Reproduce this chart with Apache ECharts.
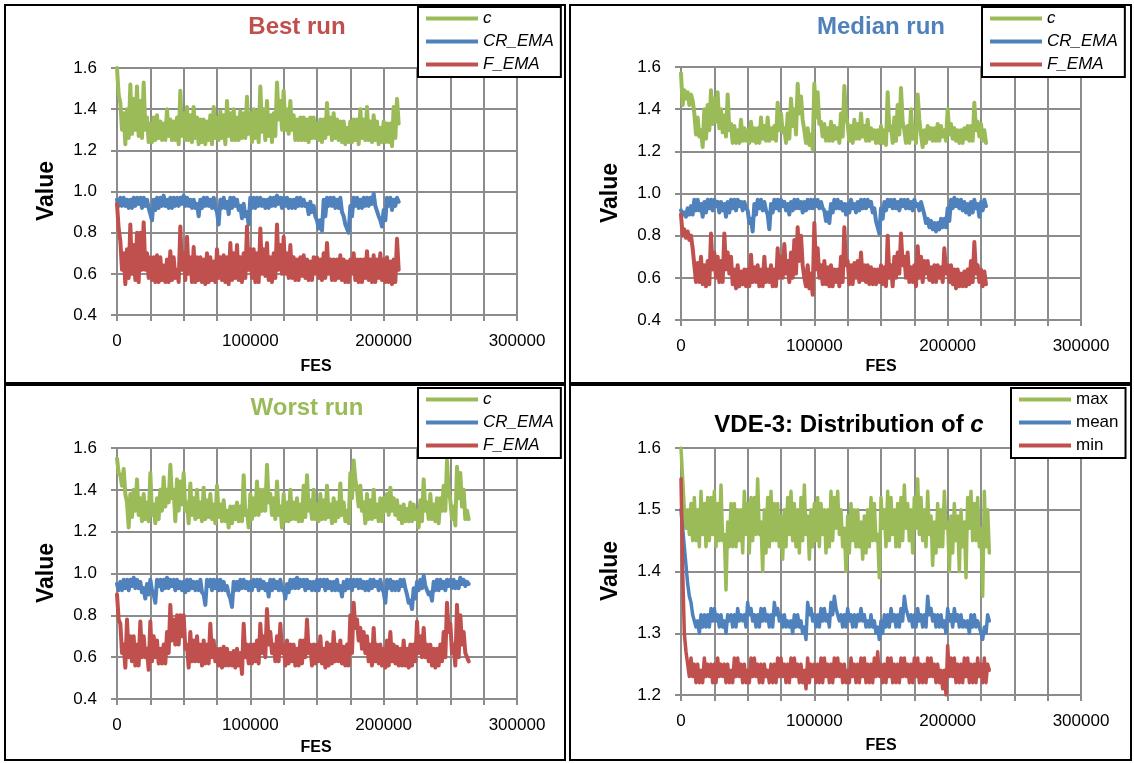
<!DOCTYPE html>
<html>
<head>
<meta charset="utf-8">
<script src="https://cdn.jsdelivr.net/npm/echarts@6/dist/echarts.min.js"></script>
<style>
  html, body { margin: 0; padding: 0; background: #fff; }
  #chart { width: 1134px; height: 763px; }
</style>
</head>
<body>
<div id="chart"></div>
<script>
// FES width of one read bin; each bin has two readings (top and bottom of the trace in that bin)
const STEP = 2500;

// Best run
const bestC = [1.60,1.43,1.23,1.40,1.52,1.30,1.51,1.26,1.53,1.24,
  1.33,1.25,1.37,1.25,1.33,1.40,1.25,1.34,1.23,1.49,
  1.25,1.41,1.24,1.41,1.23,1.35,1.23,1.34,1.23,1.41,
  1.25,1.39,1.23,1.44,1.25,1.40,1.25,1.39,1.26,1.46,
  1.24,1.40,1.24,1.51,1.25,1.44,1.24,1.38,1.53,1.30,
  1.49,1.28,1.44,1.25,1.35,1.25,1.36,1.24,1.36,1.26,
  1.33,1.24,1.35,1.43,1.25,1.38,1.25,1.34,1.23,1.31,
  1.24,1.35,1.23,1.40,1.25,1.41,1.24,1.37,1.23,1.31,
  1.24,1.33,1.22,1.41,1.45];
const bestC2 = [1.47,1.30,1.38,1.26,1.28,1.45,1.27,1.44,1.30,1.36,
  1.24,1.36,1.26,1.34,1.25,1.27,1.35,1.25,1.36,1.27,
  1.38,1.25,1.37,1.26,1.36,1.24,1.35,1.25,1.37,1.26,
  1.36,1.26,1.37,1.27,1.38,1.25,1.36,1.26,1.38,1.28,
  1.38,1.26,1.39,1.29,1.40,1.27,1.37,1.27,1.35,1.44,
  1.30,1.40,1.30,1.37,1.25,1.36,1.25,1.35,1.26,1.36,
  1.25,1.35,1.26,1.28,1.36,1.26,1.35,1.24,1.34,1.24,
  1.34,1.25,1.35,1.26,1.35,1.25,1.34,1.25,1.34,1.24,
  1.34,1.24,1.33,1.26,1.33];
const bestCR = [0.93,0.97,0.93,0.96,0.92,0.97,0.94,0.97,0.93,0.96,
  0.86,0.91,0.97,0.93,0.98,0.92,0.97,0.93,0.97,0.94,
  0.98,0.93,0.96,0.92,0.88,0.96,0.93,0.97,0.92,0.97,
  0.84,0.92,0.97,0.89,0.97,0.93,0.96,0.87,0.94,0.84,
  0.92,0.97,0.93,0.97,0.92,0.96,0.93,0.97,0.94,0.97,
  0.93,0.97,0.92,0.96,0.93,0.97,0.93,0.89,0.95,0.88,
  0.86,0.81,0.96,0.97,0.93,0.97,0.92,0.97,0.84,0.80,
  0.93,0.97,0.92,0.96,0.93,0.97,0.94,0.99,0.88,0.83,
  0.86,0.93,0.97,0.93,0.97];
const bestCR2 = [0.96,0.93,0.97,0.92,0.96,0.93,0.97,0.92,0.97,0.92,
  0.92,0.96,0.92,0.97,0.93,0.96,0.92,0.97,0.93,0.97,
  0.93,0.97,0.92,0.96,0.94,0.92,0.97,0.93,0.96,0.92,
  0.90,0.96,0.92,0.95,0.92,0.97,0.91,0.93,0.88,0.90,
  0.97,0.92,0.97,0.93,0.96,0.92,0.97,0.93,0.98,0.92,
  0.97,0.92,0.96,0.92,0.97,0.93,0.96,0.94,0.90,0.93,
  0.82,0.86,0.88,0.93,0.97,0.92,0.96,0.90,0.88,0.84,
  0.88,0.93,0.97,0.92,0.97,0.93,0.97,0.93,0.93,0.86,
  0.91,0.97,0.91,0.96,0.95];
const bestF = [0.94,0.76,0.55,0.72,0.84,0.57,0.80,0.62,0.85,0.58,
  0.68,0.56,0.69,0.57,0.64,0.56,0.71,0.58,0.62,0.83,
  0.57,0.78,0.56,0.73,0.57,0.68,0.55,0.70,0.57,0.66,
  0.72,0.57,0.69,0.55,0.75,0.58,0.74,0.56,0.70,0.83,
  0.58,0.72,0.56,0.82,0.59,0.75,0.56,0.70,0.84,0.60,
  0.78,0.58,0.74,0.57,0.67,0.59,0.69,0.57,0.66,0.60,
  0.68,0.57,0.70,0.75,0.57,0.67,0.58,0.69,0.56,0.66,
  0.60,0.70,0.56,0.67,0.58,0.71,0.56,0.69,0.58,0.70,
  0.56,0.68,0.55,0.67,0.77];
const bestF2 = [0.82,0.62,0.70,0.58,0.60,0.74,0.56,0.80,0.62,0.70,
  0.57,0.68,0.56,0.68,0.56,0.67,0.57,0.68,0.56,0.62,
  0.70,0.60,0.68,0.56,0.68,0.56,0.67,0.56,0.68,0.56,
  0.58,0.68,0.56,0.68,0.57,0.70,0.57,0.68,0.58,0.62,
  0.72,0.56,0.70,0.60,0.72,0.57,0.68,0.58,0.62,0.74,
  0.60,0.70,0.58,0.68,0.57,0.68,0.58,0.67,0.57,0.68,
  0.58,0.67,0.58,0.60,0.67,0.57,0.67,0.57,0.67,0.56,
  0.67,0.57,0.67,0.56,0.67,0.57,0.67,0.56,0.67,0.57,
  0.67,0.56,0.66,0.56,0.62];

// Median run
const medC = [1.57,1.45,1.48,1.44,1.38,1.27,1.22,1.40,1.30,1.49,
  1.34,1.48,1.29,1.37,1.47,1.24,1.32,1.24,1.35,1.25,
  1.30,1.34,1.24,1.31,1.36,1.25,1.36,1.26,1.32,1.43,
  1.29,1.24,1.38,1.45,1.40,1.52,1.35,1.30,1.23,1.21,
  1.52,1.48,1.27,1.33,1.25,1.34,1.26,1.31,1.38,1.51,
  1.25,1.32,1.35,1.26,1.38,1.25,1.35,1.26,1.30,1.24,
  1.32,1.23,1.48,1.24,1.36,1.42,1.50,1.30,1.24,1.40,
  1.24,1.47,1.22,1.30,1.26,1.31,1.25,1.33,1.27,1.30,
  1.40,1.26,1.31,1.24,1.30,1.26,1.32,1.25,1.43,1.27,
  1.33,1.30];
const medC2 = [1.42,1.49,1.42,1.47,1.28,1.36,1.30,1.26,1.42,1.33,
  1.45,1.31,1.40,1.27,1.30,1.33,1.24,1.30,1.25,1.31,
  1.24,1.25,1.31,1.24,1.26,1.32,1.25,1.31,1.25,1.30,
  1.38,1.31,1.26,1.32,1.28,1.38,1.46,1.24,1.31,1.28,
  1.36,1.33,1.34,1.25,1.31,1.25,1.32,1.24,1.27,1.36,
  1.33,1.24,1.26,1.33,1.27,1.32,1.25,1.31,1.24,1.30,
  1.24,1.30,1.30,1.32,1.25,1.28,1.34,1.24,1.32,1.26,
  1.31,1.35,1.28,1.24,1.32,1.25,1.31,1.25,1.32,1.25,
  1.28,1.33,1.25,1.30,1.24,1.31,1.25,1.32,1.30,1.34,
  1.25,1.24];
const medCR = [0.90,0.91,0.90,0.94,0.92,0.97,0.89,0.96,0.93,0.97,
  0.94,0.96,0.92,0.89,0.96,0.93,0.97,0.94,0.96,0.93,
  0.86,0.82,0.95,0.93,0.97,0.92,0.83,0.95,0.93,0.97,
  0.94,0.96,0.90,0.96,0.93,0.97,0.91,0.96,0.93,0.97,
  0.94,0.97,0.93,0.87,0.86,0.95,0.97,0.93,0.96,0.90,
  0.95,0.93,0.91,0.96,0.93,0.97,0.94,0.96,0.87,0.81,
  0.93,0.96,0.94,0.97,0.93,0.96,0.94,0.97,0.93,0.96,
  0.94,0.95,0.93,0.86,0.84,0.87,0.82,0.86,0.88,0.84,
  0.93,0.97,0.94,0.97,0.92,0.96,0.90,0.96,0.93,0.89,
  0.96,0.94];
const medCR2 = [0.92,0.89,0.93,0.90,0.97,0.92,0.95,0.91,0.97,0.92,
  0.97,0.91,0.96,0.95,0.91,0.97,0.92,0.97,0.92,0.96,
  0.92,0.88,0.90,0.97,0.92,0.96,0.90,0.91,0.97,0.92,
  0.97,0.92,0.95,0.92,0.97,0.93,0.96,0.92,0.97,0.93,
  0.97,0.93,0.96,0.92,0.91,0.91,0.93,0.97,0.92,0.95,
  0.91,0.97,0.95,0.92,0.97,0.93,0.97,0.91,0.93,0.87,
  0.88,0.92,0.97,0.93,0.97,0.92,0.97,0.93,0.97,0.92,
  0.97,0.92,0.96,0.90,0.88,0.83,0.86,0.83,0.84,0.88,
  0.87,0.93,0.98,0.93,0.97,0.91,0.95,0.91,0.97,0.95,
  0.92,0.97];
const medF = [0.90,0.79,0.82,0.80,0.66,0.58,0.70,0.56,0.68,0.81,
  0.60,0.70,0.58,0.81,0.62,0.70,0.55,0.66,0.57,0.64,
  0.56,0.71,0.58,0.66,0.56,0.70,0.58,0.66,0.56,0.74,
  0.60,0.76,0.58,0.72,0.62,0.84,0.66,0.60,0.55,0.52,
  0.86,0.74,0.57,0.68,0.56,0.66,0.58,0.64,0.70,0.84,
  0.57,0.66,0.60,0.68,0.72,0.58,0.66,0.57,0.64,0.58,
  0.66,0.56,0.80,0.56,0.70,0.62,0.81,0.60,0.72,0.58,
  0.66,0.75,0.70,0.62,0.68,0.58,0.66,0.60,0.65,0.74,
  0.58,0.66,0.55,0.64,0.56,0.63,0.57,0.68,0.77,0.58,
  0.64,0.57];
const medF2 = [0.80,0.83,0.78,0.74,0.58,0.67,0.57,0.66,0.57,0.64,
  0.72,0.58,0.68,0.64,0.72,0.57,0.64,0.56,0.63,0.56,
  0.64,0.58,0.65,0.56,0.64,0.58,0.64,0.56,0.64,0.60,
  0.70,0.62,0.68,0.60,0.78,0.68,0.80,0.56,0.66,0.62,
  0.64,0.60,0.66,0.57,0.65,0.56,0.64,0.56,0.58,0.66,
  0.68,0.57,0.67,0.58,0.59,0.66,0.57,0.65,0.57,0.64,
  0.57,0.65,0.60,0.66,0.60,0.72,0.66,0.70,0.58,0.65,
  0.56,0.60,0.58,0.68,0.59,0.65,0.58,0.66,0.58,0.62,
  0.66,0.57,0.64,0.56,0.62,0.56,0.64,0.58,0.62,0.66,
  0.56,0.63];

// Worst run
const worstC = [1.55,1.47,1.50,1.22,1.38,1.30,1.45,1.25,1.38,1.25,
  1.48,1.24,1.36,1.30,1.46,1.40,1.52,1.25,1.45,1.33,
  1.48,1.24,1.43,1.26,1.40,1.25,1.41,1.27,1.38,1.24,
  1.42,1.25,1.35,1.22,1.32,1.26,1.34,1.25,1.47,1.22,
  1.38,1.28,1.44,1.30,1.40,1.52,1.28,1.36,1.44,1.22,
  1.38,1.25,1.40,1.26,1.36,1.25,1.42,1.47,1.26,1.40,
  1.25,1.38,1.26,1.42,1.24,1.36,1.27,1.43,1.25,1.30,
  1.48,1.54,1.32,1.42,1.24,1.38,1.26,1.40,1.25,1.36,
  1.30,1.38,1.41,1.28,1.35,1.24,1.33,1.25,1.34,1.26,
  1.22,1.35,1.45,1.26,1.38,1.25,1.36,1.30,1.42,1.54,
  1.35,1.23,1.51,1.48,1.26,1.26];
const worstC2 = [1.48,1.42,1.38,1.34,1.27,1.40,1.28,1.36,1.26,1.34,
  1.28,1.33,1.26,1.40,1.32,1.34,1.36,1.40,1.30,1.44,
  1.30,1.34,1.28,1.36,1.27,1.34,1.26,1.35,1.26,1.33,
  1.27,1.33,1.25,1.30,1.24,1.32,1.25,1.32,1.28,1.30,
  1.26,1.36,1.28,1.40,1.30,1.34,1.38,1.26,1.28,1.32,
  1.25,1.34,1.26,1.34,1.25,1.33,1.27,1.30,1.35,1.26,
  1.33,1.26,1.35,1.27,1.33,1.25,1.34,1.28,1.34,1.24,
  1.36,1.45,1.40,1.30,1.34,1.26,1.35,1.27,1.33,1.25,
  1.36,1.28,1.30,1.36,1.26,1.32,1.25,1.31,1.25,1.33,
  1.30,1.25,1.30,1.34,1.26,1.33,1.24,1.36,1.30,1.40,
  1.26,1.32,1.36,1.32,1.40,1.30];
const worstCR = [0.92,0.96,0.93,0.97,0.94,0.98,0.93,0.96,0.88,0.95,
  0.97,0.86,0.94,0.97,0.93,0.98,0.94,0.97,0.93,0.96,
  0.91,0.97,0.93,0.96,0.92,0.97,0.85,0.94,0.97,0.93,
  0.97,0.92,0.96,0.90,0.84,0.92,0.96,0.93,0.97,0.92,
  0.96,0.94,0.97,0.93,0.96,0.89,0.97,0.93,0.96,0.92,
  0.88,0.95,0.97,0.93,0.98,0.94,0.97,0.93,0.96,0.92,
  0.97,0.94,0.97,0.93,0.96,0.92,0.97,0.89,0.96,0.93,
  0.97,0.94,0.97,0.93,0.96,0.92,0.97,0.94,0.96,0.93,
  0.86,0.93,0.97,0.92,0.96,0.94,0.97,0.90,0.83,0.88,
  0.96,0.93,0.99,0.94,0.87,0.92,0.97,0.93,0.96,0.94,
  0.97,0.93,0.96,0.95,0.97,0.96];
const worstCR2 = [0.95,0.92,0.97,0.92,0.97,0.93,0.97,0.91,0.93,0.90,
  0.92,0.90,0.97,0.92,0.97,0.93,0.97,0.92,0.97,0.92,
  0.96,0.92,0.97,0.92,0.96,0.91,0.90,0.97,0.92,0.97,
  0.92,0.97,0.92,0.94,0.88,0.96,0.92,0.97,0.93,0.96,
  0.92,0.97,0.92,0.97,0.92,0.95,0.92,0.97,0.92,0.97,
  0.93,0.91,0.93,0.97,0.93,0.97,0.92,0.97,0.92,0.96,
  0.92,0.97,0.92,0.97,0.92,0.96,0.92,0.94,0.92,0.97,
  0.92,0.97,0.93,0.97,0.92,0.96,0.93,0.97,0.92,0.97,
  0.91,0.97,0.92,0.96,0.92,0.97,0.93,0.86,0.87,0.93,
  0.92,0.97,0.94,0.90,0.91,0.96,0.92,0.97,0.92,0.97,
  0.93,0.97,0.93,0.98,0.94,0.95];
const worstF = [0.90,0.76,0.55,0.78,0.58,0.70,0.56,0.77,0.60,0.54,
  0.77,0.60,0.68,0.57,0.66,0.72,0.85,0.66,0.80,0.70,
  0.80,0.55,0.72,0.58,0.70,0.56,0.68,0.57,0.76,0.58,
  0.64,0.55,0.65,0.56,0.62,0.55,0.64,0.52,0.76,0.57,
  0.66,0.58,0.68,0.76,0.60,0.83,0.62,0.58,0.70,0.76,
  0.56,0.68,0.58,0.66,0.56,0.68,0.60,0.78,0.56,0.66,
  0.58,0.70,0.55,0.67,0.57,0.72,0.58,0.68,0.56,0.66,
  0.80,0.86,0.68,0.74,0.62,0.70,0.56,0.74,0.57,0.66,
  0.55,0.68,0.72,0.57,0.65,0.56,0.68,0.55,0.66,0.58,
  0.77,0.60,0.74,0.58,0.66,0.55,0.64,0.58,0.72,0.86,
  0.62,0.56,0.85,0.80,0.62,0.58];
const worstF2 = [0.78,0.62,0.66,0.60,0.70,0.56,0.66,0.60,0.70,0.64,
  0.58,0.70,0.57,0.64,0.57,0.62,0.68,0.78,0.66,0.80,
  0.64,0.66,0.58,0.68,0.58,0.66,0.57,0.66,0.60,0.68,
  0.56,0.64,0.56,0.64,0.56,0.63,0.56,0.62,0.60,0.66,
  0.57,0.66,0.57,0.62,0.70,0.66,0.72,0.66,0.58,0.62,
  0.66,0.57,0.66,0.56,0.64,0.57,0.68,0.62,0.66,0.57,
  0.66,0.57,0.64,0.56,0.66,0.58,0.66,0.57,0.65,0.56,
  0.62,0.74,0.78,0.64,0.72,0.58,0.66,0.58,0.66,0.56,
  0.64,0.56,0.58,0.66,0.56,0.64,0.56,0.64,0.56,0.66,
  0.62,0.70,0.60,0.66,0.56,0.64,0.56,0.66,0.60,0.72,
  0.76,0.66,0.60,0.66,0.72,0.62];

// VDE-3: distribution of c
const distMax = [1.60,1.50,1.46,1.51,1.45,1.50,1.53,1.44,1.52,1.46,
  1.53,1.45,1.54,1.37,1.48,1.44,1.51,1.45,1.50,1.53,
  1.43,1.52,1.46,1.55,1.40,1.50,1.44,1.53,1.45,1.51,
  1.42,1.50,1.46,1.53,1.44,1.50,1.45,1.54,1.42,1.50,
  1.45,1.52,1.46,1.50,1.44,1.53,1.47,1.53,1.44,1.40,
  1.49,1.45,1.50,1.44,1.48,1.43,1.50,1.52,1.45,1.39,
  1.47,1.44,1.53,1.46,1.50,1.44,1.52,1.54,1.45,1.50,
  1.47,1.55,1.45,1.50,1.53,1.41,1.48,1.44,1.50,1.53,
  1.40,1.49,1.45,1.40,1.50,1.39,1.47,1.53,1.45,1.52,
  1.36,1.53,1.43];
const distMax2 = [1.55,1.47,1.50,1.45,1.52,1.44,1.46,1.51,1.45,1.52,
  1.44,1.51,1.45,1.46,1.44,1.51,1.44,1.50,1.43,1.46,
  1.51,1.45,1.52,1.46,1.48,1.43,1.52,1.45,1.51,1.44,
  1.49,1.44,1.52,1.45,1.51,1.43,1.52,1.46,1.49,1.44,
  1.51,1.44,1.51,1.43,1.50,1.45,1.52,1.46,1.50,1.47,
  1.43,1.51,1.44,1.50,1.42,1.49,1.44,1.45,1.51,1.46,
  1.52,1.50,1.45,1.52,1.44,1.51,1.45,1.47,1.51,1.43,
  1.52,1.46,1.52,1.44,1.46,1.49,1.43,1.51,1.44,1.47,
  1.48,1.43,1.51,1.49,1.44,1.48,1.52,1.45,1.51,1.44,
  1.47,1.44,1.50];
const distMean = [1.50,1.44,1.38,1.35,1.32,1.30,1.33,1.31,1.33,1.32,
  1.34,1.31,1.33,1.30,1.32,1.33,1.31,1.34,1.32,1.31,
  1.35,1.32,1.33,1.31,1.34,1.32,1.31,1.33,1.35,1.32,
  1.33,1.31,1.32,1.30,1.33,1.31,1.32,1.29,1.35,1.32,
  1.33,1.31,1.34,1.32,1.33,1.35,1.36,1.32,1.33,1.31,
  1.32,1.31,1.33,1.32,1.34,1.31,1.32,1.33,1.30,1.29,
  1.32,1.31,1.33,1.32,1.31,1.33,1.34,1.36,1.32,1.33,
  1.31,1.32,1.33,1.31,1.36,1.32,1.31,1.33,1.31,1.32,
  1.34,1.31,1.32,1.31,1.33,1.31,1.32,1.31,1.33,1.31,
  1.29,1.31,1.33];
const distMean2 = [1.47,1.41,1.36,1.33,1.31,1.32,1.31,1.33,1.31,1.34,
  1.32,1.33,1.31,1.32,1.33,1.31,1.33,1.32,1.33,1.33,
  1.33,1.34,1.31,1.33,1.32,1.34,1.33,1.31,1.33,1.34,
  1.31,1.33,1.31,1.32,1.31,1.33,1.30,1.31,1.33,1.34,
  1.31,1.33,1.32,1.34,1.31,1.33,1.34,1.34,1.31,1.33,
  1.34,1.33,1.31,1.33,1.32,1.33,1.31,1.31,1.32,1.31,
  1.30,1.33,1.31,1.34,1.33,1.31,1.32,1.34,1.34,1.31,
  1.33,1.34,1.31,1.33,1.33,1.34,1.33,1.31,1.33,1.30,
  1.32,1.33,1.34,1.33,1.31,1.32,1.30,1.33,1.31,1.32,
  1.31,1.30,1.32];
const distMin = [1.55,1.30,1.25,1.23,1.25,1.22,1.24,1.26,1.23,1.25,
  1.22,1.26,1.23,1.25,1.22,1.24,1.26,1.23,1.25,1.22,
  1.24,1.23,1.26,1.22,1.25,1.23,1.24,1.22,1.25,1.23,
  1.26,1.22,1.25,1.23,1.26,1.22,1.25,1.21,1.26,1.23,
  1.25,1.22,1.26,1.23,1.25,1.22,1.26,1.23,1.25,1.22,
  1.24,1.26,1.22,1.25,1.23,1.26,1.22,1.25,1.23,1.27,
  1.22,1.25,1.23,1.26,1.22,1.25,1.23,1.26,1.22,1.25,
  1.23,1.26,1.22,1.25,1.23,1.26,1.22,1.25,1.21,1.20,
  1.28,1.23,1.26,1.22,1.25,1.23,1.26,1.22,1.25,1.23,
  1.22,1.26,1.24];
const distMin2 = [1.40,1.27,1.23,1.26,1.22,1.25,1.22,1.23,1.25,1.22,
  1.25,1.23,1.25,1.22,1.25,1.22,1.23,1.26,1.22,1.25,
  1.22,1.26,1.23,1.25,1.22,1.25,1.22,1.25,1.22,1.26,
  1.23,1.25,1.22,1.26,1.23,1.25,1.22,1.24,1.22,1.25,
  1.22,1.25,1.22,1.26,1.22,1.25,1.23,1.26,1.22,1.25,
  1.22,1.23,1.25,1.22,1.26,1.22,1.25,1.22,1.26,1.23,
  1.25,1.22,1.26,1.22,1.25,1.22,1.26,1.23,1.25,1.22,
  1.26,1.22,1.25,1.22,1.26,1.23,1.25,1.22,1.24,1.24,
  1.23,1.26,1.22,1.25,1.22,1.26,1.22,1.25,1.22,1.26,
  1.25,1.22,1.25];

const runNames = ['c', 'CR_EMA', 'F_EMA'];
const distNames = ['max', 'mean', 'min'];
const colors = ['#9BBB59', '#4F81BD', '#C0504D'];

const FONT = '"Liberation Sans", Arial, sans-serif';
const GRID_GRAY = '#8c8c8c';

const panels = [
  { grid: { left: 117, top: 68, width: 400, height: 247 }, yMin: 0.4, yMax: 1.6, yStep: 0.2,
    title: 'Best run', titleColor: '#C0504D', titleAt: [297, 27], valueAt: [47, 191], fesAt: [316, 367],
    legendAt: [418, 7], names: runNames, italic: true,
    data: [[bestC, bestC2], [bestCR, bestCR2], [bestF, bestF2]], lw: 4 },
  { grid: { left: 681, top: 67, width: 400, height: 253 }, yMin: 0.4, yMax: 1.6, yStep: 0.2,
    title: 'Median run', titleColor: '#4F81BD', titleAt: [881, 27], valueAt: [611, 193], fesAt: [881, 367],
    legendAt: [982, 7], names: runNames, italic: true,
    data: [[medC, medC2], [medCR, medCR2], [medF, medF2]], lw: 4 },
  { grid: { left: 117, top: 448, width: 400, height: 251 }, yMin: 0.4, yMax: 1.6, yStep: 0.2,
    title: 'Worst run', titleColor: '#9BBB59', titleAt: [307, 408], valueAt: [47, 573], fesAt: [316, 748],
    legendAt: [418, 388], names: runNames, italic: true,
    data: [[worstC, worstC2], [worstCR, worstCR2], [worstF, worstF2]], lw: 4 },
  { grid: { left: 681, top: 448, width: 400, height: 247 }, yMin: 1.2, yMax: 1.6, yStep: 0.1,
    title: null, titleAt: [849, 425], valueAt: [611, 571], fesAt: [881, 746],
    legendAt: [1011, 388], names: distNames, italic: false,
    data: [[distMax, distMax2], [distMean, distMean2], [distMin, distMin2]], lw: 3.5 }
];

// each bin is drawn as its top reading then its bottom reading, half a bin apart
function toPoints(a, b) {
  const pts = [];
  a.forEach((v, i) => {
    pts.push([i * STEP, Math.max(v, b[i])]);
    pts.push([(i + 0.5) * STEP, Math.min(v, b[i])]);
  });
  return pts;
}

const chart = echarts.init(document.getElementById('chart'), null, { renderer: 'canvas' });

const grids = [], xAxes = [], yAxes = [], series = [], legends = [], graphics = [];

panels.forEach((p, idx) => {
  grids.push(Object.assign({ containLabel: false }, p.grid));
  xAxes.push({
    type: 'value', gridIndex: idx, min: 0, max: 300000, interval: 25000,
    axisLine: { show: true, lineStyle: { color: GRID_GRAY, width: 2 } },
    axisTick: { show: true, inside: false, length: 6, lineStyle: { color: GRID_GRAY, width: 2 } },
    splitLine: { show: true, lineStyle: { color: GRID_GRAY, width: 2 } },
    axisLabel: {
      margin: 18, color: '#000', fontSize: 17, fontFamily: FONT,
      formatter: v => (v % 100000 === 0 ? String(v) : '')
    }
  });
  yAxes.push({
    type: 'value', gridIndex: idx, min: p.yMin, max: p.yMax, interval: p.yStep,
    axisLine: { show: true, lineStyle: { color: GRID_GRAY, width: 2 } },
    axisTick: { show: true, inside: false, length: 6, lineStyle: { color: GRID_GRAY, width: 2 } },
    splitLine: { show: true, lineStyle: { color: GRID_GRAY, width: 2 } },
    axisLabel: { margin: 20, color: '#000', fontSize: 17, fontFamily: FONT, formatter: v => v.toFixed(1) }
  });
  p.data.forEach((pair, j) => {
    series.push({
      type: 'line', name: p.names[j], xAxisIndex: idx, yAxisIndex: idx,
      data: toPoints(pair[0], pair[1]), symbol: 'none', showSymbol: false, silent: true,
      itemStyle: { color: colors[j] },
      lineStyle: { color: colors[j], width: p.lw, join: 'round', cap: 'round' },
      z: 2 + j
    });
  });
  legends.push({
    left: p.legendAt[0], top: p.legendAt[1], orient: 'vertical',
    data: p.names, icon: 'rect', itemWidth: 52, itemHeight: 4, itemGap: 6,
    padding: [3, 7, 4, 8], borderColor: '#000', borderWidth: 2, backgroundColor: '#fff',
    selectedMode: false,
    textStyle: { color: '#000', fontSize: 17, fontFamily: FONT, fontStyle: p.italic ? 'italic' : 'normal' }
  });
  if (p.title) {
    graphics.push({
      type: 'text', x: p.titleAt[0], y: p.titleAt[1], silent: true,
      style: { text: p.title, fill: p.titleColor, fontSize: 24, fontWeight: 'bold', fontFamily: FONT,
        textAlign: 'center', textVerticalAlign: 'middle', align: 'center', verticalAlign: 'middle' }
    });
  } else {
    graphics.push({
      type: 'text', x: p.titleAt[0], y: p.titleAt[1], silent: true,
      style: {
        text: '{a|VDE-3: Distribution of }{b|c}',
        textAlign: 'center', textVerticalAlign: 'middle', align: 'center', verticalAlign: 'middle',
        rich: {
          a: { fill: '#000', color: '#000', fontSize: 24, fontWeight: 'bold', fontFamily: FONT },
          b: { fill: '#000', color: '#000', fontSize: 24, fontWeight: 'bold', fontStyle: 'italic', fontFamily: FONT }
        }
      }
    });
  }
  graphics.push({
    type: 'text', x: p.valueAt[0], y: p.valueAt[1], rotation: Math.PI / 2, silent: true,
    style: { text: 'Value', fill: '#000', fontSize: 23, fontWeight: 'bold', fontFamily: FONT,
      textAlign: 'center', textVerticalAlign: 'middle', align: 'center', verticalAlign: 'middle' }
  });
  graphics.push({
    type: 'text', x: p.fesAt[0], y: p.fesAt[1], silent: true,
    style: { text: 'FES', fill: '#000', fontSize: 16, fontWeight: 'bold', fontFamily: FONT,
      textAlign: 'center', textVerticalAlign: 'middle', align: 'center', verticalAlign: 'middle' }
  });
});

// panel frames
[[5, 5, 560, 378], [570, 5, 561, 378], [5, 385, 560, 375], [570, 385, 561, 375]].forEach(r => {
  graphics.push({
    type: 'rect', silent: true, z: 100,
    shape: { x: r[0], y: r[1], width: r[2], height: r[3] },
    style: { fill: null, stroke: '#000', lineWidth: 2 }
  });
});

chart.setOption({
  animation: false,
  backgroundColor: '#fff',
  grid: grids,
  xAxis: xAxes,
  yAxis: yAxes,
  legend: legends,
  series: series,
  graphic: { elements: graphics }
});
</script>
</body>
</html>
